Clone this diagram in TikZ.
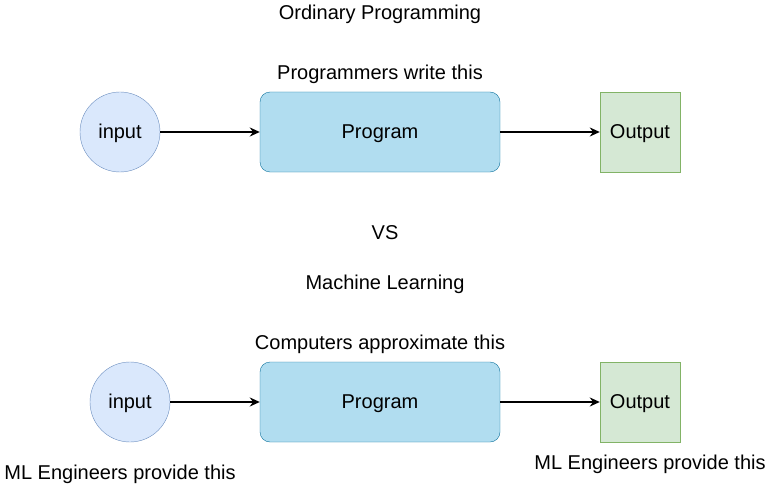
\documentclass[tikz,border=0pt]{standalone}
\usepackage{fontspec}
\setmainfont{Liberation Sans}
\usetikzlibrary{arrows.meta}
\definecolor{inputfill}{HTML}{DAE8FC}
\definecolor{inputline}{HTML}{6C8EBF}
\definecolor{progfill}{HTML}{B1DDF0}
\definecolor{progline}{HTML}{10739E}
\definecolor{outfill}{HTML}{D5E8D4}
\definecolor{outline}{HTML}{82B366}
\tikzset{
    inputnode/.style={circle, draw=inputline, fill=inputfill, minimum size=80pt, inner sep=0pt},
    prognode/.style={rectangle, rounded corners=10pt, draw=progline, fill=progfill, minimum width=240pt, minimum height=80pt, inner sep=0pt},
    outnode/.style={rectangle, draw=outline, fill=outfill, minimum size=80pt, inner sep=0pt},
    flow/.style={-{Stealth[length=10pt,width=9pt]}, line width=1.5pt},
}
\begin{document}
\begin{tikzpicture}[x=1pt, y=-1pt, font=\fontsize{20}{24}\selectfont, inner sep=0pt, text height=18.1pt, text depth=4.2pt]
        \useasboundingbox (0,0) rectangle (771,484);
        % ordinary programming
        \node (ordtitle) at (380,13) {Ordinary Programming};
        \node (ordnote)  at (380,73) {Programmers write this};
        \node[inputnode] (ordin)   at (120,132) {input};
        \node[prognode]  (ordprog) at (380,132) {Program};
        \node[outnode]   (ordout)  at (640,132) {Output};
        \draw[flow] (ordin) -- (ordprog);
        \draw[flow] (ordprog) -- (ordout);
        % versus
        \node (vs) at (385,233) {VS};
        % machine learning
        \node (mltitle) at (385,283) {Machine Learning};
        \node (mlnote)  at (380,343) {Computers approximate this};
        \node[inputnode] (mlin)   at (130,402) {input};
        \node[prognode]  (mlprog) at (380,402) {Program};
        \node[outnode]   (mlout)  at (640,402) {Output};
        \draw[flow] (mlin) -- (mlprog);
        \draw[flow] (mlprog) -- (mlout);
        \node (mlinnote)  at (120,473) {ML Engineers provide this};
        \node (mloutnote) at (650,463) {ML Engineers provide this};
    \end{tikzpicture}
\end{document}
